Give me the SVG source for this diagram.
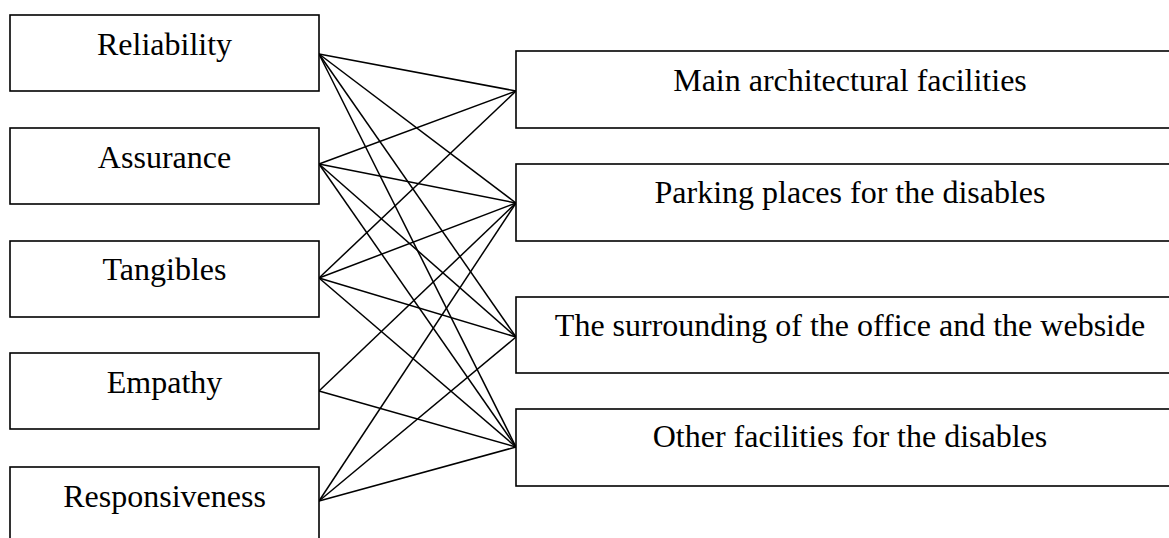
<svg xmlns="http://www.w3.org/2000/svg" width="1169" height="538" viewBox="0 0 1169 538">
<style>
.box{fill:#fff;stroke:#000;stroke-width:1.6}
.lbl{font-family:"Liberation Serif","Times New Roman",serif;font-size:32px;fill:#000;text-anchor:middle}
.con line{stroke:#000;stroke-width:1.5}
</style>
<rect width="1169" height="538" fill="#fff"/>
<g id="connectors" class="con">
<line x1="319" y1="54" x2="516" y2="91"/>
<line x1="319" y1="54" x2="516" y2="203"/>
<line x1="319" y1="54" x2="516" y2="337"/>
<line x1="319" y1="54" x2="516" y2="447"/>
<line x1="319" y1="164" x2="516" y2="91"/>
<line x1="319" y1="164" x2="516" y2="203"/>
<line x1="319" y1="164" x2="516" y2="337"/>
<line x1="319" y1="164" x2="516" y2="447"/>
<line x1="319" y1="278" x2="516" y2="91"/>
<line x1="319" y1="278" x2="516" y2="203"/>
<line x1="319" y1="278" x2="516" y2="337"/>
<line x1="319" y1="278" x2="516" y2="447"/>
<line x1="319" y1="391" x2="516" y2="203"/>
<line x1="319" y1="391" x2="516" y2="447"/>
<line x1="319" y1="501" x2="516" y2="203"/>
<line x1="319" y1="501" x2="516" y2="337"/>
<line x1="319" y1="501" x2="516" y2="447"/>
</g>
<g id="reliability"><rect class="box" x="10" y="15" width="309" height="76"/><text class="lbl" x="164.5" y="55">Reliability</text></g>
<g id="assurance"><rect class="box" x="10" y="128" width="309" height="76"/><text class="lbl" x="164.5" y="168">Assurance</text></g>
<g id="tangibles"><rect class="box" x="10" y="241" width="309" height="76"/><text class="lbl" x="164.5" y="280">Tangibles</text></g>
<g id="empathy"><rect class="box" x="10" y="353" width="309" height="76"/><text class="lbl" x="164.5" y="393">Empathy</text></g>
<g id="responsiveness"><rect class="box" x="10" y="467" width="309" height="90"/><text class="lbl" x="164.5" y="507">Responsiveness</text></g>
<g id="main-architectural"><rect class="box" x="516" y="51" width="668" height="77"/><text class="lbl" x="850" y="91">Main architectural facilities</text></g>
<g id="parking"><rect class="box" x="516" y="164" width="668" height="77"/><text class="lbl" x="850" y="203">Parking places for the disables</text></g>
<g id="surrounding"><rect class="box" x="516" y="297" width="668" height="76"/><text class="lbl" x="850" y="336">The surrounding of the office and the webside</text></g>
<g id="other"><rect class="box" x="516" y="409" width="668" height="77"/><text class="lbl" x="850" y="447">Other facilities for the disables</text></g>
</svg>
